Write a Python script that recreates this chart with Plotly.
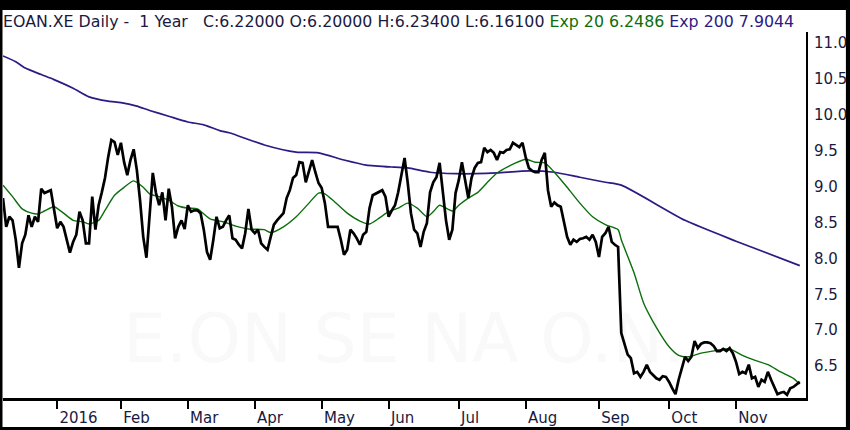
import plotly.graph_objects as go

# ---------------- data ----------------
CLOSE_DATES = [
    "2015-12-04", "2015-12-07", "2015-12-08", "2015-12-09", "2015-12-10", "2015-12-11",
    "2015-12-14", "2015-12-15", "2015-12-16", "2015-12-17", "2015-12-18", "2015-12-21",
    "2015-12-22", "2015-12-23", "2015-12-29",
    "2016-01-04", "2016-01-05", "2016-01-06", "2016-01-08", "2016-01-11", "2016-01-12",
    "2016-01-13", "2016-01-14", "2016-01-15", "2016-01-18", "2016-01-19", "2016-01-20",
    "2016-01-21", "2016-01-22", "2016-01-25", "2016-01-26", "2016-01-27", "2016-01-28",
    "2016-01-29",
    "2016-02-01", "2016-02-02", "2016-02-03", "2016-02-04", "2016-02-05", "2016-02-08",
    "2016-02-09", "2016-02-10", "2016-02-11", "2016-02-12", "2016-02-15", "2016-02-16",
    "2016-02-17", "2016-02-18", "2016-02-19", "2016-02-22", "2016-02-23", "2016-02-24",
    "2016-02-25", "2016-02-26", "2016-02-29",
    "2016-03-01", "2016-03-02", "2016-03-03", "2016-03-04", "2016-03-07", "2016-03-08",
    "2016-03-09", "2016-03-10", "2016-03-11", "2016-03-14", "2016-03-15", "2016-03-16",
    "2016-03-17", "2016-03-18", "2016-03-21", "2016-03-22", "2016-03-23", "2016-03-24",
    "2016-03-29", "2016-03-30", "2016-03-31",
    "2016-04-01", "2016-04-04", "2016-04-05", "2016-04-06", "2016-04-07", "2016-04-08",
    "2016-04-11", "2016-04-12", "2016-04-13", "2016-04-14", "2016-04-15", "2016-04-18",
    "2016-04-19", "2016-04-20", "2016-04-21", "2016-04-22", "2016-04-25", "2016-04-26",
    "2016-04-27", "2016-04-28", "2016-04-29",
    "2016-05-02", "2016-05-03", "2016-05-04", "2016-05-05", "2016-05-06", "2016-05-09",
    "2016-05-10", "2016-05-11", "2016-05-12", "2016-05-13", "2016-05-17", "2016-05-18",
    "2016-05-19", "2016-05-20", "2016-05-23", "2016-05-24", "2016-05-25", "2016-05-26",
    "2016-05-27", "2016-05-30", "2016-05-31",
    "2016-06-01", "2016-06-02", "2016-06-03", "2016-06-06", "2016-06-07", "2016-06-08",
    "2016-06-09", "2016-06-10", "2016-06-13", "2016-06-14", "2016-06-15", "2016-06-16",
    "2016-06-17", "2016-06-20", "2016-06-21", "2016-06-22", "2016-06-23", "2016-06-24",
    "2016-06-27", "2016-06-28", "2016-06-29", "2016-06-30",
    "2016-07-01", "2016-07-04", "2016-07-05", "2016-07-06", "2016-07-07", "2016-07-08",
    "2016-07-11", "2016-07-12", "2016-07-13", "2016-07-14", "2016-07-15", "2016-07-18",
    "2016-07-19", "2016-07-20", "2016-07-21", "2016-07-22", "2016-07-25", "2016-07-26",
    "2016-07-27", "2016-07-28", "2016-07-29",
    "2016-08-01", "2016-08-02", "2016-08-03", "2016-08-04", "2016-08-05", "2016-08-08",
    "2016-08-09", "2016-08-10", "2016-08-11", "2016-08-12", "2016-08-15", "2016-08-16",
    "2016-08-17", "2016-08-18", "2016-08-19", "2016-08-22", "2016-08-23", "2016-08-24",
    "2016-08-25", "2016-08-26", "2016-08-29", "2016-08-30", "2016-08-31",
    "2016-09-01", "2016-09-02", "2016-09-05", "2016-09-06", "2016-09-07", "2016-09-08",
    "2016-09-09", "2016-09-12", "2016-09-13", "2016-09-14", "2016-09-15", "2016-09-16",
    "2016-09-19", "2016-09-20", "2016-09-21", "2016-09-22", "2016-09-23", "2016-09-26",
    "2016-09-27", "2016-09-28", "2016-09-29", "2016-09-30",
    "2016-10-03", "2016-10-04", "2016-10-05", "2016-10-06", "2016-10-07", "2016-10-10",
    "2016-10-11", "2016-10-12", "2016-10-13", "2016-10-14", "2016-10-17", "2016-10-18",
    "2016-10-19", "2016-10-20", "2016-10-21", "2016-10-24", "2016-10-25", "2016-10-26",
    "2016-10-27", "2016-10-28", "2016-10-31",
    "2016-11-01", "2016-11-02", "2016-11-03", "2016-11-04", "2016-11-07", "2016-11-08",
    "2016-11-09", "2016-11-10", "2016-11-11", "2016-11-14", "2016-11-15", "2016-11-16",
    "2016-11-17", "2016-11-18", "2016-11-21", "2016-11-22", "2016-11-23", "2016-11-24",
    "2016-11-25", "2016-11-28", "2016-11-29",
]
CLOSE_VALUES = [
    8.84, 8.44, 8.58, 8.53, 8.26, 7.87,
    8.21, 8.33, 8.60, 8.44, 8.58, 8.51,
    8.97, 8.91, 8.95,
    8.42, 8.51, 8.44, 8.08, 8.23, 8.33,
    8.65, 8.53, 8.21, 8.21, 8.86, 8.40,
    8.74, 8.92, 9.12, 9.41, 9.65, 9.62,
    9.44,
    9.61, 9.34, 9.16, 9.37, 9.52, 9.23,
    8.81, 8.30, 8.01, 8.56, 9.19, 8.91,
    8.74, 8.92, 8.53, 8.97, 8.72, 8.28,
    8.44, 8.53, 8.41,
    8.74, 8.65, 8.67, 8.67, 8.63, 8.40,
    8.09, 7.98, 8.26, 8.58, 8.42, 8.44,
    8.53, 8.60, 8.28, 8.26, 8.19, 8.14,
    8.35, 8.69, 8.40,
    8.35, 8.40, 8.21, 8.16, 8.12, 8.30,
    8.47, 8.53, 8.58, 8.63, 8.84, 8.95,
    9.12, 9.16, 9.34, 9.33, 9.06, 9.20,
    9.37, 9.20, 9.05,
    8.98, 8.77, 8.44, 8.44, 8.44, 8.44,
    8.26, 8.05, 8.12, 8.40, 8.35, 8.28,
    8.19, 8.33, 8.37, 8.70, 8.88, 8.90,
    8.92, 8.95, 8.86,
    8.58, 8.67, 8.74, 8.92, 9.19, 9.40,
    9.05, 8.63, 8.40, 8.35, 8.16, 8.37,
    8.49, 8.92, 9.06, 9.13, 9.33, 8.95,
    8.53, 8.26, 8.40, 8.91,
    9.09, 9.34, 9.09, 8.84, 9.12, 9.26,
    9.33, 9.34, 9.54, 9.48, 9.51, 9.47,
    9.37, 9.48, 9.47, 9.51, 9.52, 9.61,
    9.58, 9.55, 9.61,
    9.41, 9.26, 9.22, 9.20, 9.20, 9.37,
    9.47, 8.95, 8.72, 8.78, 8.74, 8.72,
    8.53, 8.30, 8.19, 8.26, 8.23, 8.27,
    8.28, 8.30, 8.26, 8.33, 8.23,
    8.02, 8.30, 8.35, 8.44, 8.23, 8.19,
    8.16, 6.96, 6.79, 6.66, 6.61, 6.40,
    6.42, 6.35, 6.42, 6.52, 6.42, 6.38,
    6.33, 6.31, 6.36, 6.35,
    6.28, 6.19, 6.11, 6.31, 6.49, 6.63,
    6.57, 6.63, 6.85, 6.75, 6.81, 6.83,
    6.83, 6.82, 6.78, 6.71, 6.71, 6.74,
    6.71, 6.75, 6.68,
    6.56, 6.39, 6.42, 6.40, 6.52, 6.33,
    6.35, 6.21, 6.31, 6.28, 6.42, 6.31,
    6.21, 6.11, 6.13, 6.14, 6.10, 6.19,
    6.21, 6.25, 6.28,
]

EXP20_DATES = [
    "2015-12-04", "2015-12-09", "2015-12-14", "2015-12-17", "2015-12-21", "2015-12-23",
    "2015-12-30", "2016-01-06", "2016-01-11", "2016-01-14", "2016-01-18", "2016-01-21",
    "2016-01-25", "2016-01-28", "2016-02-02", "2016-02-05", "2016-02-10", "2016-02-12",
    "2016-02-17", "2016-02-22", "2016-02-25", "2016-03-01", "2016-03-04", "2016-03-10",
    "2016-03-16", "2016-03-22", "2016-03-30", "2016-04-06", "2016-04-08", "2016-04-14",
    "2016-04-20", "2016-04-26", "2016-04-29", "2016-05-03", "2016-05-06", "2016-05-12",
    "2016-05-19", "2016-05-24", "2016-05-27", "2016-06-01", "2016-06-06", "2016-06-09",
    "2016-06-14", "2016-06-17", "2016-06-21", "2016-06-23", "2016-06-29", "2016-07-01",
    "2016-07-06", "2016-07-11", "2016-07-14", "2016-07-19", "2016-07-25", "2016-08-01",
    "2016-08-04", "2016-08-09", "2016-08-12", "2016-08-18", "2016-08-24", "2016-08-30",
    "2016-09-05", "2016-09-09", "2016-09-12", "2016-09-16", "2016-09-21", "2016-09-27",
    "2016-10-03", "2016-10-06", "2016-10-11", "2016-10-17", "2016-10-24", "2016-10-28",
    "2016-11-03", "2016-11-09", "2016-11-15", "2016-11-21", "2016-11-25", "2016-11-29",
]
EXP20_VALUES = [
    9.02, 8.86, 8.69, 8.63, 8.62, 8.66,
    8.72, 8.63, 8.53, 8.51, 8.48, 8.53,
    8.67, 8.88, 8.99, 9.08, 8.99, 8.90,
    8.86, 8.81, 8.73, 8.70, 8.69, 8.55,
    8.51, 8.45, 8.41, 8.40, 8.36, 8.44,
    8.58, 8.77, 8.91, 8.90, 8.79, 8.63,
    8.52, 8.48, 8.56, 8.65, 8.70, 8.77,
    8.70, 8.58, 8.65, 8.74, 8.66, 8.74,
    8.84, 8.92, 9.06, 9.19, 9.29, 9.38,
    9.34, 9.33, 9.20, 8.99, 8.77, 8.58,
    8.47, 8.40, 8.26, 7.80, 7.38, 7.04,
    6.77, 6.65, 6.63, 6.68, 6.72, 6.74,
    6.65, 6.58, 6.52, 6.42, 6.33, 6.25,
]

EXP200_DATES = [
    "2015-12-04", "2015-12-10", "2015-12-15", "2015-12-22", "2015-12-30", "2016-01-11",
    "2016-01-18", "2016-01-26", "2016-02-01", "2016-02-08", "2016-02-12", "2016-02-22",
    "2016-03-01", "2016-03-08", "2016-03-15", "2016-03-18", "2016-04-06", "2016-04-20",
    "2016-04-29", "2016-05-11", "2016-05-23", "2016-06-03", "2016-06-09", "2016-06-20",
    "2016-06-30", "2016-07-08", "2016-07-19", "2016-08-02", "2016-08-12", "2016-08-24",
    "2016-09-05", "2016-09-12", "2016-10-10", "2016-11-01", "2016-11-29",
]
EXP200_VALUES = [
    10.82, 10.74, 10.65, 10.56, 10.49, 10.37,
    10.25, 10.19, 10.17, 10.12, 10.06, 9.98,
    9.90, 9.86, 9.78, 9.75, 9.58, 9.48,
    9.47, 9.37, 9.30, 9.27, 9.26, 9.20,
    9.18, 9.18, 9.19, 9.22, 9.20, 9.13,
    9.06, 9.02, 8.53, 8.24, 7.90,
]

MONTH_TICKS = ["2016-01-04", "2016-02-01", "2016-03-01", "2016-04-01", "2016-05-02",
               "2016-06-01", "2016-07-01", "2016-08-01", "2016-09-01", "2016-10-03",
               "2016-11-01"]
MONTH_LABELS = ["2016", "Feb", "Mar", "Apr", "May", "Jun", "Jul", "Aug", "Sep", "Oct", "Nov"]

PRICE_TICKS = [6.5, 7.0, 7.5, 8.0, 8.5, 9.0, 9.5, 10.0, 10.5, 11.0]

HOLIDAYS = ["2015-12-24", "2015-12-25", "2015-12-31", "2016-01-01",
            "2016-03-25", "2016-03-28", "2016-05-16"]

HEADER_MAIN = "EOAN.XE Daily -\u00a0\u00a01 Year\u00a0\u00a0\u00a0C:6.22000 O:6.20000 H:6.23400 L:6.16100"
HEADER_EXP20 = "Exp 20 6.2486"
HEADER_EXP200 = "Exp 200 7.9044"
WATERMARK = "E.ON SE NA O.N."

# ---------------- styling ----------------
FONT = "DejaVu Sans"
TEXT_COLOR = "#1a1a40"
GREEN = "#0b6e0b"
PURPLE = "#2c1a85"

W, H = 850, 430
L, R, T, B = 3, 42, 32, 32
PW, PH = W - L - R, H - T - B


def px_x(p):
    return (p - L) / PW


def px_y(p):
    return (H - B - p) / PH


fig = go.Figure()

fig.add_trace(go.Scatter(
    x=EXP200_DATES, y=EXP200_VALUES, mode="lines",
    line=dict(color=PURPLE, width=1.7, shape="spline", smoothing=0.6),
    hoverinfo="skip", showlegend=False))
fig.add_trace(go.Scatter(
    x=EXP20_DATES, y=EXP20_VALUES, mode="lines",
    line=dict(color=GREEN, width=1.4, shape="spline", smoothing=0.6),
    hoverinfo="skip", showlegend=False))
fig.add_trace(go.Scatter(
    x=CLOSE_DATES, y=CLOSE_VALUES, mode="lines",
    line=dict(color="#000000", width=2.7),
    hoverinfo="skip", showlegend=False))

# white chart body inside the black outer frame
fig.add_shape(type="rect", xref="paper", yref="paper", layer="below",
              x0=px_x(2.5), x1=px_x(848), y0=px_y(427), y1=px_y(10),
              fillcolor="white", line=dict(width=0))
# faint watermark
fig.add_shape(type="rect", xref="paper", yref="paper", layer="below",
              x0=px_x(105), x1=px_x(705), y0=px_y(366), y1=px_y(300),
              fillcolor="rgba(0,0,0,0)", line=dict(width=0),
              label=dict(text=WATERMARK, textposition="middle center",
                         font=dict(family=FONT, size=68, color="#f9f9f9")))

header = (HEADER_MAIN
          + f" <span style='color:{GREEN}'>{HEADER_EXP20}</span>"
          + f" <span style='color:{PURPLE}'>{HEADER_EXP200}</span>")

fig.update_layout(
    width=W, height=H,
    margin=dict(l=L, r=R, t=T, b=B, pad=0),
    paper_bgcolor="black",
    plot_bgcolor="white",
    title=dict(text=header, x=px_x(3), xref="paper", xanchor="left",
               y=1 - 21 / H, yref="container", yanchor="middle",
               font=dict(family=FONT, size=15.8, color=TEXT_COLOR)),
    xaxis=dict(
        type="date",
        range=["2015-12-04", "2016-11-30 23:00"],
        rangebreaks=[dict(bounds=["sat", "mon"]), dict(values=HOLIDAYS)],
        tickmode="array", tickvals=MONTH_TICKS, ticktext=MONTH_LABELS,
        ticks="outside", ticklen=8, tickwidth=2, tickcolor="black",
        ticklabelposition="outside right", ticklabelstandoff=4,
        tickfont=dict(family=FONT, size=15, color=TEXT_COLOR),
        showline=True, linecolor="black", linewidth=2.5,
        showgrid=False, zeroline=False,
    ),
    yaxis=dict(
        side="right",
        range=[6.056, 11.153],
        tickmode="array", tickvals=PRICE_TICKS,
        tickformat=".1f", ticks="", ticklen=0, ticklabelstandoff=3,
        tickfont=dict(family=FONT, size=15, color=TEXT_COLOR),
        showline=True, linecolor="black", linewidth=2,
        showgrid=False, zeroline=False,
    ),
    showlegend=False,
)

fig.write_html("out.html",
               config={"displayModeBar": False},
               post_script="document.body.style.margin='0px';document.body.style.padding='0px';")
